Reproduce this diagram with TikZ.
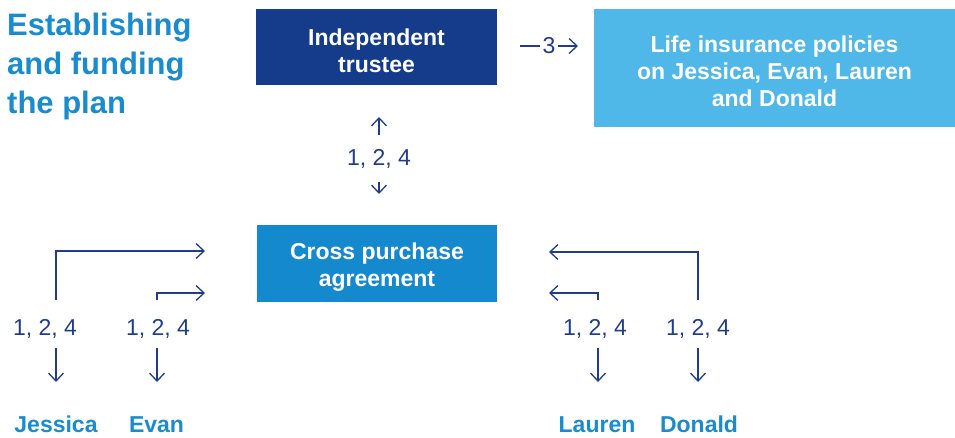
\documentclass[tikz,border=0pt]{standalone}
\usepackage{fontspec}
\setmainfont{Liberation Sans}
\usetikzlibrary{arrows.meta}
\definecolor{titleblue}{HTML}{1A8BCC}
\definecolor{navybox}{HTML}{143C8B}
\definecolor{skybox}{HTML}{4FB8E8}
\definecolor{midbox}{HTML}{1589CE}
\definecolor{inkblue}{HTML}{1F3D8A}
\tikzset{
  box/.style={draw=none, inner sep=0pt},
  boxtext/.style={text=white, font=\fontsize{23}{27}\selectfont\bfseries, align=center, inner sep=0pt},
  conn/.style={draw=inkblue, line width=1.3pt, -{Straight Barb[length=8pt,width=15pt,line width=1.3pt]}},
  bothconn/.style={draw=inkblue, line width=1.3pt, {Straight Barb[length=8pt,width=15pt,line width=1.3pt]}-{Straight Barb[length=8pt,width=15pt,line width=1.3pt]}},
  numlab/.style={text=inkblue, font=\fontsize{23}{27}\selectfont, inner sep=1pt},
  person/.style={text=titleblue, font=\fontsize{23}{27}\selectfont\bfseries, inner sep=0pt, anchor=base},
  titletext/.style={text=titleblue, font=\fontsize{31}{39}\selectfont\bfseries, align=left, inner sep=0pt}
}
\begin{document}
\begin{tikzpicture}[x=1pt,y=-1pt]
\useasboundingbox (0,0) rectangle (955,437);
% title (anchor base = baseline of the last line)
\node[titletext, anchor=base west] (title) at (7,113) {Establishing\\and funding\\the plan};
% boxes
\node[box, fill=navybox, minimum width=241pt, minimum height=76pt] (trustee) at (376.5,47) {};
\node[boxtext] (trusteetxt) at ([yshift=-3.5pt]trustee.center) {Independent\\trustee};
\node[box, fill=skybox, minimum width=361pt, minimum height=118pt] (life) at (774.5,68) {};
\node[boxtext] (lifetxt) at ([yshift=-3pt]life.center) {Life insurance policies\\on Jessica, Evan, Lauren\\and Donald};
\node[box, fill=midbox, minimum width=240pt, minimum height=77pt] (cross) at (377,263.5) {};
\node[boxtext] (crosstxt) at ([yshift=-3.5pt]cross.center) {Cross purchase\\agreement};
% trustee -> life
\coordinate (t3a) at (520,46);
\coordinate (t3b) at (578,46);
\draw[conn] (t3a) -- node[numlab, fill=white, inner xsep=2.5pt] (n3) {3} (t3b);
% trustee <-> cross
\coordinate (vt) at (379,117);
\coordinate (vb) at (379,194);
\draw[bothconn] (vt) -- node[numlab, fill=white, inner ysep=14pt, yshift=-3pt] (nmid) {1, 2, 4} (vb);
% labels above persons
\node[numlab, anchor=base] (lj) at (45,335) {1, 2, 4};
\node[numlab, anchor=base] (le) at (158,335) {1, 2, 4};
\node[numlab, anchor=base] (ll) at (595,335) {1, 2, 4};
\node[numlab, anchor=base] (ld) at (698,335) {1, 2, 4};
% persons
\node[person] (jessica) at (56,432) {Jessica};
\node[person] (evan) at (156.5,432) {Evan};
\node[person] (lauren) at (597,432) {Lauren};
\node[person] (donald) at (699,432) {Donald};
% coordinates
\coordinate (js) at (56,300);
\coordinate (es) at (157,300);
\coordinate (ls) at (598,300);
\coordinate (ds) at (698,300);
\coordinate (jt) at (205,251);
\coordinate (et) at (205,293);
\coordinate (lt) at (549,293);
\coordinate (dt) at (549,252);
\draw[conn] (js) |- (jt);
\draw[conn] (es) |- (et);
\draw[conn] (ds) |- (dt);
\draw[conn] (ls) |- (lt);
% down arrows
\coordinate (jd1) at (56,348); \coordinate (jd2) at (56,382);
\coordinate (ed1) at (157,348); \coordinate (ed2) at (157,382);
\coordinate (ld1) at (598,348); \coordinate (ld2) at (598,382);
\coordinate (dd1) at (698,348); \coordinate (dd2) at (698,382);
\draw[conn] (jd1) -- (jd2);
\draw[conn] (ed1) -- (ed2);
\draw[conn] (ld1) -- (ld2);
\draw[conn] (dd1) -- (dd2);
\end{tikzpicture}
\end{document}
